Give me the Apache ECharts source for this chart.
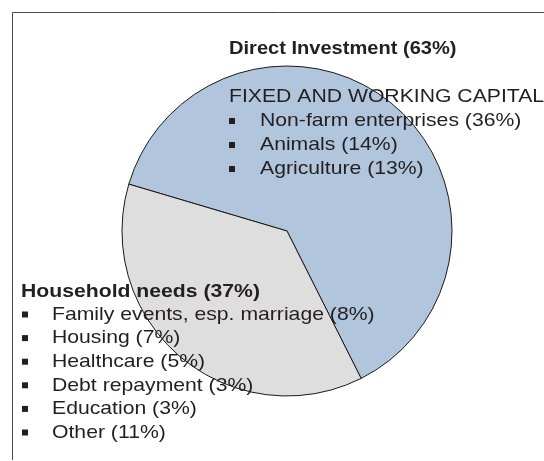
<!DOCTYPE html>
<html>
<head>
<meta charset="utf-8">
<script src="https://cdn.jsdelivr.net/npm/echarts@6/dist/echarts.min.js"></script>
<style>
  html, body { margin: 0; padding: 0; background: #ffffff; }
  #chart { width: 544px; height: 461px; }
</style>
</head>
<body>
<div id="chart"></div>
<script>
// Two-slice breakdown of how loans are used, with sub-item lists
const sliceNames = ['Direct Investment', 'Household needs'];
const sliceValues = [63, 37];
const sliceColors = ['#b1c5dd', '#dedede'];

const investSubtitle = 'FIXED AND WORKING CAPITAL';
const investItems = ['Non-farm enterprises', 'Animals', 'Agriculture'];
const investShares = [36, 14, 13];

const householdItems = ['Family events, esp. marriage', 'Housing', 'Healthcare', 'Debt repayment', 'Education', 'Other'];
const householdShares = [8, 7, 5, 3, 3, 11];

const TEXT_COLOR = '#231f20';
const FONT_FAMILY = '"Liberation Sans", Arial, sans-serif';
const STRETCH = 1.115;   // horizontal stretch used for all annotation text

const chart = echarts.init(document.getElementById('chart'), null, { renderer: 'canvas' });

const graphics = [];

function addText(str, x, y, size, bold) {
  graphics.push({
    type: 'text',
    x: x, y: y,
    scaleX: STRETCH, scaleY: 1,
    z: 100,
    silent: true,
    style: {
      text: str,
      fill: TEXT_COLOR,
      font: (bold ? 'bold ' : '') + size + 'px ' + FONT_FAMILY,
      align: 'left',
      verticalAlign: 'middle'
    }
  });
}

function addBullet(x, y) {
  graphics.push({
    type: 'rect',
    z: 100,
    silent: true,
    shape: { x: x, y: y - 3, width: 6, height: 6 },
    style: { fill: TEXT_COLOR }
  });
}

// frame lines (top and left)
graphics.push({
  type: 'polyline', z: 100, silent: true,
  shape: { points: [[12.5, 460], [12.5, 12.5], [544, 12.5]] },
  style: { stroke: '#4a4a4a', lineWidth: 1, fill: null }
});

// Direct investment block
addText(sliceNames[0] + ' (' + sliceValues[0] + '%)', 229, 49.5, 18, true);
addText(investSubtitle, 229, 97, 19, false);
investItems.forEach(function (name, i) {
  const y = 121 + i * 24;
  addBullet(229, y);
  addText(name + ' (' + investShares[i] + '%)', 260, y, 19, false);
});

// Household block
addText(sliceNames[1] + ' (' + sliceValues[1] + '%)', 21, 292, 19, true);
householdItems.forEach(function (name, i) {
  const y = 314.5 + i * 23.6;
  addBullet(22, y);
  addText(name + ' (' + householdShares[i] + '%)', 52, y, 19, false);
});

chart.setOption({
  animation: false,
  backgroundColor: '#ffffff',
  series: [{
    type: 'pie',
    center: [287, 231],
    radius: 165,
    startAngle: 163.5,
    clockwise: true,
    silent: true,
    label: { show: false },
    labelLine: { show: false },
    emphasis: { disabled: true },
    itemStyle: { borderColor: '#1a1a1a', borderWidth: 1 },
    data: sliceNames.map(function (n, i) {
      return { name: n, value: sliceValues[i], itemStyle: { color: sliceColors[i] } };
    })
  }],
  graphic: graphics
});
</script>
</body>
</html>
